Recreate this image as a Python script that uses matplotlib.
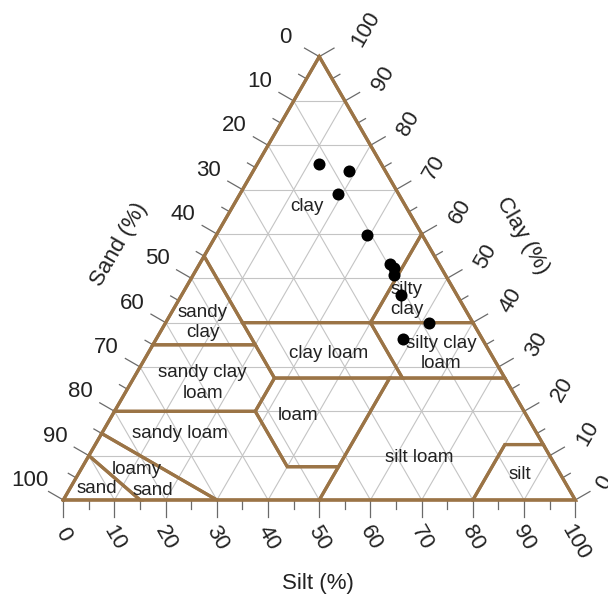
import numpy as np
import matplotlib
matplotlib.use("Agg")
import matplotlib.pyplot as plt

plt.rcParams['font.family'] = ['Liberation Sans', 'DejaVu Sans']

# Sample compositions (percent)
sample_clay = [75.8, 74.3, 69.0, 59.7, 53.2, 52.4, 50.8, 46.2, 40.0, 36.2]
sample_silt = [12.1, 18.7, 19.2, 29.4, 37.2, 38.4, 39.1, 42.9, 51.4, 48.3]

tick_values = list(range(0, 101, 10))
minor_values = list(range(5, 100, 10))

# USDA texture classes as (silt, clay) vertex lists
texture_classes = {
    "clay": [(0, 100), (0, 55), (15, 40), (40, 40), (40, 60)],
    "sandy clay": [(0, 55), (0, 35), (20, 35)],
    "silty clay": [(40, 60), (40, 40), (60, 40)],
    "sandy clay loam": [(0, 35), (0, 20), (27.5, 20), (27.5, 27.5), (20, 35)],
    "clay loam": [(15, 40), (40, 40), (52.5, 27.5), (27.5, 27.5)],
    "silty clay loam": [(40, 40), (60, 40), (72.5, 27.5), (52.5, 27.5)],
    "loam": [(27.5, 20), (27.5, 27.5), (50, 27.5), (50, 7.5), (40, 7.5)],
    "sandy loam": [(0, 20), (0, 15), (30, 0), (50, 0), (50, 7.5), (40, 7.5), (27.5, 20)],
    "silt loam": [(50, 0), (80, 0), (80, 12.5), (87.5, 12.5), (72.5, 27.5), (50, 27.5)],
    "silt": [(80, 0), (100, 0), (87.5, 12.5), (80, 12.5)],
    "loamy sand": [(0, 15), (0, 10), (15, 0), (30, 0)],
    "sand": [(0, 0), (0, 10), (15, 0)],
}

SQ = np.sqrt(3) / 2


def to_xy(silt, clay):
    silt = np.asarray(silt, dtype=float)
    clay = np.asarray(clay, dtype=float)
    return silt + clay / 2, clay * SQ


BROWN = '#9b7446'
GRID = '#c4c4c4'
TICK = '#6a6a6a'
TXT = '#222222'

fig = plt.figure(figsize=(6.08, 5.99), dpi=100)
ax = fig.add_axes([0, 0, 1, 1])
ax.set_xlim(-12.36, 106.39)
ax.set_ylim(-19.34, 97.66)
ax.set_aspect('equal')
ax.axis('off')

# grid lines every 10 %
for v in range(10, 100, 10):
    # constant clay
    x, y = to_xy([0, 100 - v], [v, v])
    ax.plot(x, y, color=GRID, lw=0.8, zorder=1)
    # constant silt
    x, y = to_xy([v, v], [0, 100 - v])
    ax.plot(x, y, color=GRID, lw=0.8, zorder=1)
    # constant sand
    x, y = to_xy([100 - v, 0], [0, 100 - v])
    ax.plot(x, y, color=GRID, lw=0.8, zorder=1)

# class outlines
for name, verts in texture_classes.items():
    s = [p[0] for p in verts] + [verts[0][0]]
    c = [p[1] for p in verts] + [verts[0][1]]
    x, y = to_xy(s, c)
    ax.plot(x, y, color=BROWN, lw=2.3, solid_joinstyle='miter', zorder=3)

# outer triangle
x, y = to_xy([0, 100, 0, 0], [0, 0, 100, 0])
ax.plot(x, y, color=BROWN, lw=2.3, solid_joinstyle='miter', zorder=3)

# ticks
major_len = 17 / 5.12
minor_len = 9 / 5.12
d_left = np.array([-np.cos(np.pi / 6), np.sin(np.pi / 6)])
d_right = np.array([np.cos(np.pi / 6), np.sin(np.pi / 6)])

for vals, ln in ((tick_values, major_len), (minor_values, minor_len)):
    for v in vals:
        # silt (bottom)
        x0, y0 = to_xy(v, 0)
        ax.plot([x0, x0], [y0, y0 - ln], color=TICK, lw=0.9, zorder=2)
        # sand (left)
        x0, y0 = to_xy(0, 100 - v)
        ax.plot([x0, x0 + d_left[0] * ln], [y0, y0 + d_left[1] * ln], color=TICK, lw=0.9, zorder=2)
        # clay (right)
        x0, y0 = to_xy(100 - v, v)
        ax.plot([x0, x0 + d_right[0] * ln], [y0, y0 + d_right[1] * ln], color=TICK, lw=0.9, zorder=2)

# tick labels
for v in tick_values:
    n = len(str(v))
    x0, y0 = to_xy(v, 0)
    ax.text(x0, y0 - 7.5 - 0.8 * (n - 2), str(v), rotation=-60, ha='center', va='center',
            fontsize=16, color=TXT)
    x0, y0 = to_xy(0, 100 - v)
    ax.text(x0 + d_left[0] * 7.6, y0 + d_left[1] * 7.6, str(v), ha='center', va='center',
            fontsize=16, color=TXT)
    x0, y0 = to_xy(100 - v, v)
    r = 8.6 + 2.0 * (n - 2)
    ax.text(x0 + d_right[0] * r, y0 + d_right[1] * r, str(v), rotation=60,
            ha='center', va='center', fontsize=16, color=TXT)

# axis titles
ax.text(10.9, 49.8, 'Sand (%)', rotation=60, ha='center', va='center', fontsize=16, color=TXT)
ax.text(89.6, 51.6, 'Clay (%)', rotation=-60, ha='center', va='center', fontsize=16, color=TXT)
ax.text(49.7, -16.4, 'Silt (%)', ha='center', va='center', fontsize=16, color=TXT)

# class names
class_labels = [
    ("clay", 14.4, 66.3),
    ("silty", 43.4, 47.4),
    ("clay", 45.6, 42.9),
    ("sandy", 6.1, 42.25),
    ("clay", 8.4, 37.7),
    ("sandy clay", 12.8, 28.8),
    ("loam", 15.2, 24.1),
    ("clay loam", 35.2, 33.1),
    ("silty clay", 56.25, 35.3),
    ("loam", 58.3, 30.8),
    ("sandy loam", 15.35, 14.9),
    ("loam", 36.4, 18.95),
    ("silt loam", 64.65, 9.63),
    ("silt", 86.3, 5.86),
    ("loamy", 10.95, 6.77),
    ("sand", 16.5, 2.1),
    ("sand", 5.4, 2.48),
]
for txt, s, c in class_labels:
    x, y = to_xy(s, c)
    ax.text(x, y, txt, ha='center', va='center', fontsize=13.5, color=TXT, zorder=5)

# samples
x, y = to_xy(sample_silt, sample_clay)
ax.scatter(x, y, s=75, color='black', zorder=6, linewidths=0)

fig.savefig('out.png', dpi=100)
